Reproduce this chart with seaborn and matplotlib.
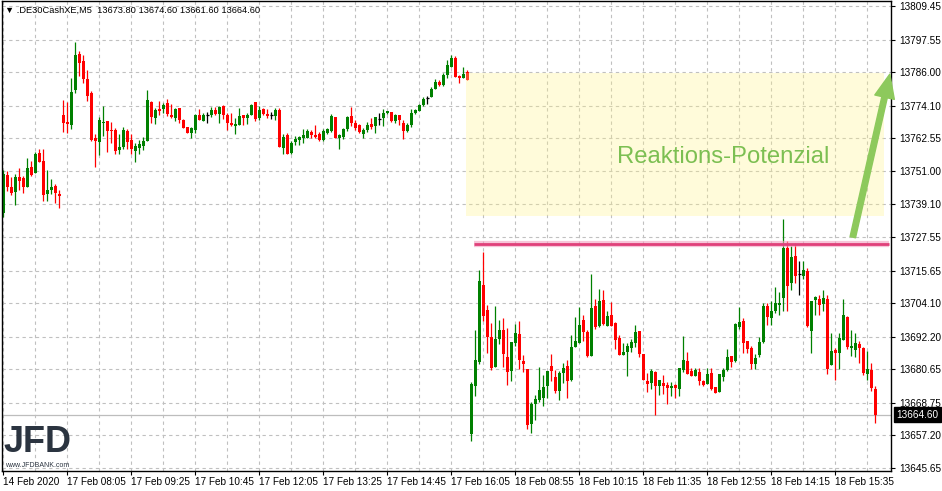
import numpy as np
import pandas as pd
import matplotlib
matplotlib.use("Agg")
import matplotlib.pyplot as plt
from matplotlib.patches import Rectangle
import seaborn as sns

# ---- M5 candles: 14 Feb (close), 17 Feb and 18 Feb sessions ----
open_ = [
    13736.0, 13749.4, 13745.2, 13743.4, 13748.7, 13748.5, 13745.3, 13752.3, 13750.2, 13757.2, 13754.4, 13742.7, 13744.1, 13745.5, 13742.7,
    13770.7, 13768.3, 13767.2, 13779.6, 13792.4, 13789.9, 13783.5, 13778.6, 13762.8, 13761.3,
    13768.0, 13768.6, 13765.5, 13765.4, 13758.4, 13759.4, 13765.1, 13761.9, 13758.1, 13759.0,
    13759.7, 13761.5, 13775.5, 13769.7, 13772.9, 13772.8, 13775.0, 13770.8, 13769.9, 13773.2,
    13769.1, 13766.6, 13764.5, 13765.4, 13770.8, 13768.7, 13770.7, 13770.7, 13772.6, 13771.2,
    13773.9, 13770.8, 13768.0, 13766.9, 13767.3, 13770.7, 13769.8, 13770.8, 13775.4, 13769.8,
    13772.9, 13771.1, 13770.8, 13770.5, 13772.5, 13759.1, 13763.6, 13757.2, 13761.2, 13762.0,
    13762.7, 13762.7, 13764.7, 13763.6, 13764.0, 13761.9, 13764.5, 13765.2, 13770.0, 13762.8,
    13762.9, 13765.8, 13770.4, 13767.9, 13767.2, 13764.1, 13765.4, 13767.5, 13766.9, 13769.3,
    13769.7, 13771.5, 13771.8, 13768.6, 13770.7, 13767.9, 13765.1, 13767.2, 13771.6, 13772.3,
    13774.3, 13776.8, 13777.1, 13780.0, 13782.5, 13781.4, 13785.0, 13787.9, 13791.0, 13784.6, 13783.9, 13786.0,
    13657.8, 13674.9, 13683.4, 13710.7, 13701.8, 13692.2, 13681.6, 13691.5, 13694.7, 13685.1,
    13680.1, 13690.1, 13693.3, 13683.7, 13680.9, 13661.4, 13668.2, 13669.8, 13670.5, 13674.6,
    13681.9, 13678.0, 13673.0, 13679.4, 13681.9, 13676.9, 13688.7, 13690.1, 13698.3, 13694.0,
    13685.5, 13703.2, 13696.0, 13705.4, 13696.1, 13700.0, 13697.2, 13691.9, 13685.8, 13686.9,
    13688.3, 13690.1, 13694.4, 13686.2, 13676.6, 13675.9, 13679.8, 13674.8, 13675.9, 13675.2,
    13674.1, 13675.2, 13673.7, 13680.5, 13683.7, 13680.1, 13678.4, 13679.8, 13676.6, 13675.5,
    13679.4, 13674.4, 13672.7, 13678.0, 13680.5, 13685.5, 13683.7, 13695.8, 13697.9, 13690.8,
    13688.3, 13682.7, 13685.8, 13690.4, 13703.2, 13699.0, 13701.5, 13703.6, 13706.1, 13723.8,
    13711.4, 13721.0, 13714.6, 13713.9, 13715.4, 13694.4, 13705.4, 13705.7, 13703.9, 13705.7,
    13682.3, 13687.6, 13686.5, 13691.2, 13699.3, 13688.3, 13687.6, 13689.7, 13688.3, 13679.1, 13680.5, 13673.8,
]
high = [
    13751.2, 13751.0, 13748.8, 13750.0, 13751.9, 13749.1, 13755.5, 13754.4, 13757.7, 13758.7, 13758.7, 13751.2, 13748.2, 13746.5, 13744.4,
    13776.1, 13775.4, 13783.9, 13796.6, 13793.5, 13792.1, 13786.7, 13779.3, 13764.2, 13770.1,
    13773.9, 13768.6, 13768.3, 13766.1, 13764.1, 13766.5, 13765.8, 13764.0, 13760.8, 13761.9,
    13762.9, 13779.6, 13775.8, 13773.2, 13775.7, 13775.1, 13776.4, 13774.6, 13773.3, 13773.2,
    13769.4, 13766.6, 13766.6, 13771.3, 13772.8, 13771.5, 13771.8, 13773.7, 13773.5, 13774.0,
    13774.3, 13771.6, 13771.6, 13769.7, 13773.2, 13770.7, 13771.6, 13774.6, 13775.4, 13773.9,
    13773.2, 13772.9, 13771.8, 13773.2, 13773.2, 13764.0, 13764.3, 13761.5, 13763.3, 13763.3,
    13765.8, 13765.7, 13765.4, 13767.2, 13764.7, 13765.7, 13766.2, 13771.1, 13770.0, 13764.0,
    13766.1, 13770.4, 13773.6, 13769.0, 13767.5, 13766.1, 13768.3, 13769.7, 13770.0, 13771.4,
    13773.1, 13772.2, 13771.8, 13771.1, 13770.7, 13769.0, 13767.9, 13772.9, 13772.9, 13774.6,
    13777.1, 13777.5, 13780.7, 13783.5, 13783.2, 13785.7, 13790.3, 13792.1, 13791.7, 13784.9, 13787.8, 13786.7,
    13676.0, 13694.7, 13715.7, 13722.4, 13703.6, 13697.2, 13703.2, 13698.3, 13699.0, 13695.4,
    13690.4, 13696.8, 13697.9, 13685.8, 13680.9, 13669.1, 13671.4, 13681.6, 13678.7, 13680.1,
    13686.2, 13680.5, 13680.1, 13683.0, 13684.0, 13692.9, 13699.3, 13702.9, 13700.0, 13694.7,
    13714.3, 13705.7, 13709.3, 13708.6, 13701.5, 13704.6, 13697.6, 13692.9, 13690.1, 13690.1,
    13691.5, 13696.5, 13694.4, 13686.2, 13679.4, 13680.9, 13680.1, 13676.9, 13678.7, 13676.2,
    13676.2, 13675.5, 13681.2, 13692.6, 13686.9, 13681.2, 13681.2, 13681.2, 13676.9, 13681.2,
    13681.2, 13674.4, 13679.1, 13681.2, 13688.0, 13685.5, 13697.2, 13702.9, 13699.0, 13690.8,
    13689.0, 13686.1, 13692.2, 13704.3, 13704.3, 13705.0, 13710.0, 13707.9, 13734.1, 13726.0,
    13724.5, 13725.3, 13719.2, 13718.9, 13716.4, 13705.0, 13706.8, 13707.1, 13708.6, 13707.1,
    13693.6, 13688.3, 13693.6, 13705.7, 13699.7, 13694.7, 13693.6, 13690.8, 13688.7, 13687.3, 13683.0, 13674.6,
]
low = [
    13734.6, 13743.7, 13742.3, 13738.9, 13744.1, 13743.1, 13745.3, 13749.1, 13750.2, 13754.2, 13740.2, 13740.5, 13742.9, 13739.6, 13738.0,
    13764.8, 13764.5, 13765.7, 13778.7, 13784.7, 13782.2, 13775.7, 13761.5, 13752.4, 13756.5,
    13763.3, 13757.6, 13760.9, 13756.9, 13756.9, 13758.7, 13758.7, 13756.9, 13754.0, 13756.9,
    13758.3, 13761.5, 13767.9, 13767.5, 13770.7, 13771.4, 13770.4, 13769.7, 13768.7, 13768.0,
    13766.2, 13764.3, 13762.8, 13764.5, 13768.9, 13768.7, 13768.0, 13770.1, 13770.8, 13768.0,
    13769.4, 13765.4, 13766.9, 13764.1, 13767.3, 13767.1, 13767.6, 13770.8, 13768.7, 13769.0,
    13770.7, 13769.8, 13769.3, 13769.1, 13759.5, 13757.0, 13757.0, 13757.1, 13760.1, 13760.2,
    13760.9, 13762.7, 13762.8, 13762.7, 13761.5, 13761.7, 13764.0, 13764.8, 13762.7, 13758.8,
    13762.2, 13765.2, 13766.8, 13765.4, 13764.3, 13762.6, 13764.9, 13766.0, 13764.5, 13767.2,
    13766.8, 13771.1, 13768.3, 13767.9, 13767.2, 13762.2, 13764.7, 13766.5, 13771.1, 13772.2,
    13773.9, 13774.6, 13777.1, 13779.9, 13781.0, 13781.0, 13783.9, 13787.8, 13784.3, 13782.2, 13783.9, 13783.2,
    13655.3, 13671.3, 13682.4, 13697.7, 13686.6, 13680.5, 13681.6, 13689.7, 13681.6, 13675.2,
    13676.6, 13689.0, 13680.9, 13679.8, 13659.6, 13658.2, 13662.8, 13668.9, 13667.8, 13670.5,
    13676.6, 13672.3, 13669.8, 13675.9, 13670.5, 13676.6, 13688.7, 13690.1, 13690.8, 13685.1,
    13685.5, 13695.1, 13695.7, 13696.5, 13696.1, 13696.1, 13688.0, 13685.8, 13685.8, 13678.4,
    13686.9, 13688.7, 13685.1, 13676.9, 13672.7, 13673.7, 13664.5, 13671.6, 13672.0, 13668.5,
    13671.3, 13670.5, 13671.3, 13679.8, 13679.1, 13678.4, 13678.4, 13675.2, 13674.8, 13675.5,
    13673.4, 13672.3, 13672.7, 13676.6, 13680.1, 13681.3, 13683.3, 13695.1, 13686.5, 13686.6,
    13680.7, 13680.7, 13685.1, 13690.1, 13696.5, 13696.5, 13700.7, 13700.0, 13701.5, 13701.5,
    13708.6, 13711.4, 13707.1, 13712.8, 13695.5, 13686.5, 13700.0, 13700.0, 13701.5, 13679.1,
    13682.3, 13676.9, 13680.9, 13691.2, 13688.0, 13685.5, 13685.1, 13683.0, 13678.7, 13676.9, 13673.0, 13661.6,
]
close = [
    13750.0, 13745.3, 13743.0, 13748.7, 13747.4, 13745.3, 13751.9, 13749.4, 13757.1, 13754.2, 13742.3, 13744.4, 13745.2, 13743.0, 13742.1,
    13768.0, 13767.6, 13778.9, 13792.1, 13789.3, 13783.5, 13777.6, 13761.9, 13761.6, 13769.0,
    13768.4, 13765.2, 13765.2, 13758.1, 13759.5, 13765.4, 13761.2, 13758.7, 13759.8, 13760.4,
    13761.5, 13776.1, 13770.0, 13772.5, 13772.2, 13774.5, 13771.0, 13770.1, 13772.8, 13769.2,
    13766.2, 13764.6, 13766.2, 13770.8, 13769.0, 13770.7, 13770.7, 13772.5, 13771.2, 13773.7,
    13770.8, 13768.0, 13767.3, 13767.5, 13770.4, 13769.8, 13770.8, 13774.3, 13769.4, 13772.5,
    13771.2, 13770.4, 13770.8, 13772.5, 13759.5, 13762.9, 13757.0, 13760.8, 13762.2, 13762.9,
    13763.6, 13765.1, 13763.6, 13762.9, 13761.9, 13765.1, 13765.9, 13770.4, 13762.7, 13763.6,
    13765.8, 13770.0, 13768.0, 13766.1, 13764.7, 13765.4, 13767.2, 13766.4, 13770.0, 13769.3,
    13771.5, 13772.2, 13768.6, 13770.7, 13769.0, 13765.1, 13767.2, 13771.5, 13772.5, 13774.3,
    13776.4, 13776.8, 13780.0, 13782.5, 13781.4, 13785.0, 13788.5, 13791.0, 13784.3, 13783.9, 13785.3, 13783.2,
    13675.4, 13684.0, 13711.8, 13699.7, 13692.2, 13681.2, 13691.5, 13694.7, 13686.2, 13679.8,
    13690.2, 13693.6, 13684.0, 13682.6, 13661.0, 13668.4, 13670.2, 13673.4, 13674.4, 13680.1,
    13679.9, 13673.0, 13679.4, 13681.2, 13676.6, 13688.7, 13690.8, 13696.5, 13694.0, 13685.5,
    13702.5, 13695.7, 13705.0, 13696.8, 13699.7, 13696.1, 13691.2, 13685.8, 13686.9, 13689.0,
    13690.4, 13694.0, 13686.2, 13676.9, 13675.5, 13680.1, 13674.8, 13676.9, 13674.8, 13674.1,
    13674.8, 13674.1, 13681.2, 13684.0, 13679.1, 13678.4, 13680.5, 13676.6, 13675.2, 13679.1,
    13673.7, 13672.3, 13679.1, 13680.5, 13685.1, 13683.3, 13696.8, 13697.6, 13690.1, 13687.7,
    13682.4, 13684.8, 13690.4, 13703.2, 13699.3, 13701.5, 13704.3, 13704.3, 13723.5, 13710.3,
    13720.6, 13713.9, 13714.6, 13715.7, 13696.1, 13705.0, 13706.2, 13703.6, 13706.1, 13680.9,
    13687.3, 13686.5, 13691.9, 13700.0, 13688.7, 13689.0, 13690.1, 13688.3, 13679.4, 13680.9, 13674.1, 13664.6,
]

# session bar counts and start times (5-minute bars)
session_starts = ["2020-02-14 21:45", "2020-02-17 08:00", "2020-02-18 08:00"]
session_bars = [15, 102, 102]

# price axis labels
price_ticks = [13645.65, 13657.20, 13668.75, 13680.65, 13692.20, 13704.10, 13715.65,
               13727.55, 13739.10, 13751.00, 13762.55, 13774.10, 13786.00, 13797.55, 13809.45]

# drawn objects
resistance_level = 13725.0
zone_low, zone_high = 13734.9, 13785.8
arrow_from, arrow_to = 13727.5, 13785.3
zone_label = "Reaktions-Potenzial"
symbol = ".DE30CashXE,M5"

# ---------------------------------------------------------------
df = pd.DataFrame({"open": open_, "high": high, "low": low, "close": close})
times = pd.DatetimeIndex([])
for start, n in zip(session_starts, session_bars):
    times = times.append(pd.date_range(start, periods=n, freq="5min"))
df["time"] = times
df["idx"] = np.arange(len(df))
n = len(df)

sns.set_theme(style="white")
plt.rcParams["font.family"] = ["Liberation Sans", "DejaVu Sans"]

fig = plt.figure(figsize=(9.42, 4.91), dpi=100)
W, H = 942, 491
ax = fig.add_axes([2 / W, 20 / H, 889 / W, 470 / H])

GREEN, RED, DOJI = "#008000", "#FF0000", "#000000"
colors = np.where(df["close"] > df["open"], GREEN,
                  np.where(df["close"] < df["open"], RED, DOJI))

# wicks
ax.vlines(df["idx"], df["low"], df["high"], colors=colors, lw=0.9, zorder=2)
# bodies
body_lo = np.minimum(df["open"], df["close"])
body_h = np.abs(df["close"] - df["open"])
ax.bar(df["idx"], body_h, bottom=body_lo, width=0.74, color=colors, linewidth=0, zorder=2)
dj = df[df["close"] == df["open"]]
ax.hlines(dj["close"], dj["idx"] - 0.4, dj["idx"] + 0.4, colors=DOJI, lw=0.9, zorder=2)

# last price line
sns.lineplot(x=[-1, n + 5], y=[close[-1], close[-1]], ax=ax, color="#BDBDBD", lw=0.9, zorder=1)

# reaction zone
ax.add_patch(Rectangle((115.6, zone_low), 220.25 - 115.6, zone_high - zone_low,
                       facecolor=(1.0, 0.95, 0.52), alpha=0.3, lw=0, zorder=3))
ax.text(179.9, 13755.9, zone_label, ha="center", va="center", fontsize=17.2,
        color="#7CBF52", zorder=5)

# resistance line with soft glow
ax.plot([117.7, 221.4], [resistance_level] * 2, color="#F2A0C0", lw=4.5, alpha=0.6,
        solid_capstyle="butt", zorder=4)
ax.plot([117.7, 221.4], [resistance_level] * 2, color="#E0407A", lw=2.0,
        solid_capstyle="butt", zorder=4)

# arrow
arr = ax.annotate("", xy=(221.6, arrow_to), xytext=(212.35, arrow_from),
                  arrowprops=dict(arrowstyle="simple,head_length=0.85,head_width=0.72,tail_width=0.2",
                                  color="#8DC95C", mutation_scale=20, shrinkA=0, shrinkB=0),
                  annotation_clip=False, zorder=5)
arr.arrow_patch.set_clip_on(False)

# axes limits
ax.set_xlim(-0.325, 221.9)
ax.set_ylim(13644.6, 13811.24)

# grid
grid_kw = dict(color="#C0C0C0", lw=0.8, linestyle=(0, (3, 3)))
label_idx = list(range(0, n, 16))
labels = [times[i].strftime("%d %b %Y") if i == 0 else times[i].strftime("%d %b %H:%M")
          for i in label_idx]
ax.set_xticks(label_idx)
ax.set_xticklabels(labels)
ax.set_xticks(range(0, n, 8), minor=True)
ax.grid(True, axis="x", which="both", **grid_kw)
ax.yaxis.tick_right()
ax.set_yticks(price_ticks)
ax.set_yticklabels([f"{v:.2f}" for v in price_ticks])
ax.grid(True, axis="y", which="major", **grid_kw)
ax.set_axisbelow(True)

ax.tick_params(axis="x", which="major", length=3, width=0.8, pad=1.5, labelsize=7.2,
               colors="black", direction="out", bottom=True)
ax.tick_params(axis="x", which="minor", length=0)
ax.tick_params(axis="y", length=3, width=0.8, pad=3, labelsize=7.2, colors="black",
               direction="out", right=True, left=False)
for lbl in ax.get_xticklabels():
    lbl.set_horizontalalignment("left")
for s in ax.spines.values():
    s.set_visible(True)
    s.set_color("black")
    s.set_linewidth(1.0)

# last price tag on the price scale
ax.annotate(f"{close[-1]:.2f}", xy=(1.0, close[-1]), xycoords=("axes fraction", "data"),
            xytext=(4, 0), textcoords="offset points", ha="left", va="center",
            fontsize=7.2, color="white",
            bbox=dict(boxstyle="square,pad=0.22", fc="black", ec="black"),
            annotation_clip=False)

# header with symbol and last bar OHLC
fig.text(5 / W, 1 - 10 / H,
         f"\u25bc {symbol}  {open_[-1]:.2f} {high[-1]:.2f} {low[-1]:.2f} {close[-1]:.2f}",
         fontsize=6.7, color="black", va="center", ha="left")

# logo
fig.text(4 / W, 1 - 452 / H, "JFD", fontsize=26, fontweight="bold", color="#2B3440",
         va="baseline", ha="left")
fig.text(5 / W, 1 - 467 / H, "www.JFDBANK.com", fontsize=5.0, color="#2B3440",
         va="baseline", ha="left")

fig.savefig("out.png", dpi=100, facecolor="white")
